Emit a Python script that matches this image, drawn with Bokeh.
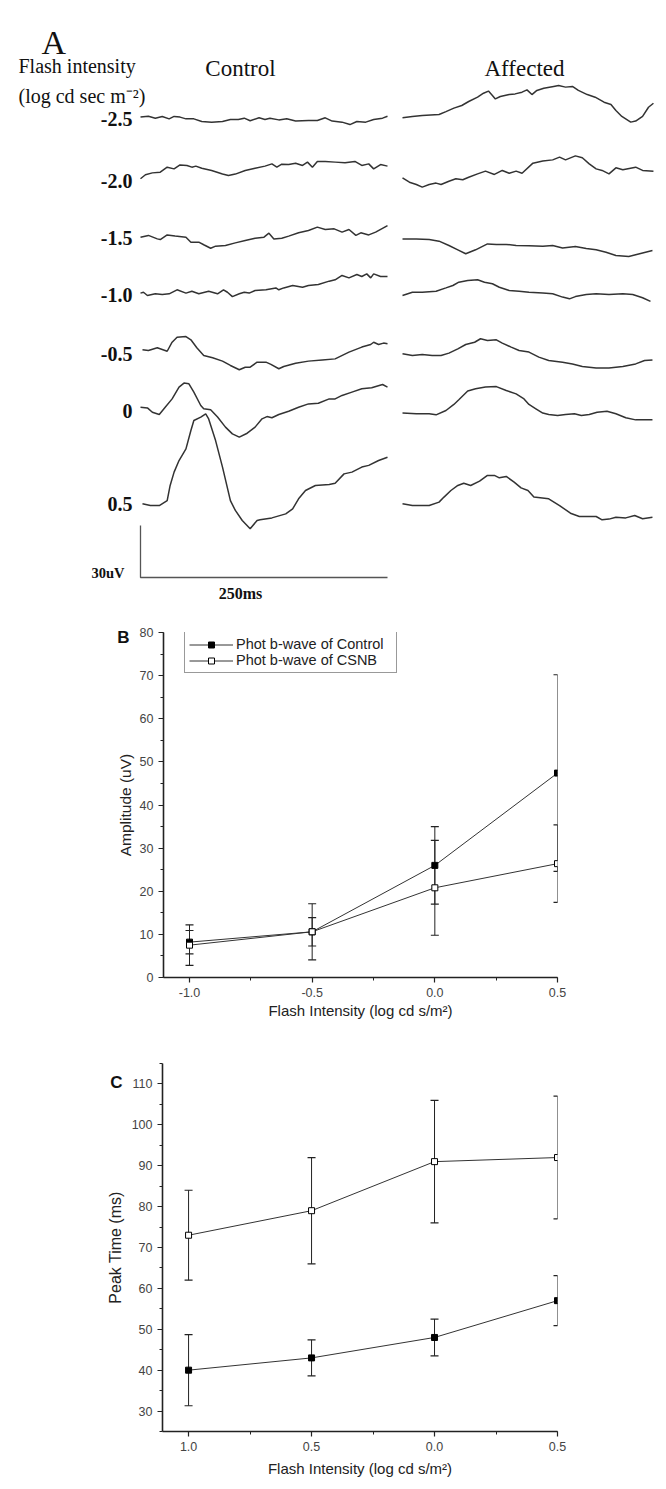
from bokeh.plotting import figure
from bokeh.models import Range1d, FixedTicker, Legend, LegendItem, LinearAxis
from bokeh.embed import file_html
from bokeh.resources import INLINE
from bokeh.core.properties import value

# =============================== DATA ===============================
# ---- Panel A: ERG traces (time in ms, amplitude in uV relative to row baseline)
intensity_labels = ["-2.5", "-2.0", "-1.5", "-1.0", "-0.5", "0", "0.5"]
column_titles = ["Control", "Affected"]
scale_uv = 30
scale_ms = 250

ctrl_m25_t = [0, 8, 15, 22, 29, 34, 40, 46, 54, 62, 72, 83, 91, 99, 105, 111, 120, 126, 131, 140, 148, 157, 170, 179, 187, 194, 204, 212, 219, 228, 236, 245, 250]
ctrl_m25_v = [0.8, 1.3, 0.2, 1.2, -0.2, 1.2, 0.8, -0.2, -0.2, -1.7, -2.1, -1.7, -0.6, -0.6, 0.2, -1.3, 0.4, -0.6, 0.2, -0.8, -0.2, -1.5, -1.2, -1.2, 0.4, -1.5, -2.1, -3.5, -1.7, -2.1, -0.6, 0.2, 1.3]

ctrl_m20_t = [0, 5, 12, 20, 27, 34, 40, 47, 52, 56, 62, 72, 83, 89, 96, 106, 116, 126, 133, 138, 143, 150, 157, 164, 169, 174, 179, 187, 197, 207, 217, 224, 231, 236, 243, 250]
ctrl_m20_v = [1.0, 3.3, 4.4, 4.8, 7.7, 6.7, 9.0, 8.7, 7.7, 8.3, 7.1, 5.8, 3.8, 2.9, 3.7, 5.8, 7.1, 8.3, 9.6, 7.7, 9.4, 9.2, 10.0, 8.7, 10.6, 7.7, 11.0, 11.0, 10.6, 10.2, 11.0, 8.7, 9.6, 6.7, 9.2, 8.3]

ctrl_m15_t = [0, 8, 17, 20, 27, 35, 46, 51, 59, 64, 71, 76, 86, 96, 106, 116, 125, 130, 135, 143, 150, 160, 170, 179, 187, 196, 204, 211, 218, 223, 231, 238, 250]
ctrl_m15_v = [0.2, 1.2, -0.8, -1.2, 1.5, 0.8, 0.2, -2.7, -2.7, -4.2, -6.2, -5.0, -4.6, -3.1, -1.7, -0.4, 0.2, 2.5, -0.8, -0.4, 0.8, 2.7, 4.0, 6.0, 4.6, 5.0, 3.1, 4.6, 1.2, 2.7, 1.5, 3.1, 6.9]

ctrl_m10_t = [0, 3, 7, 15, 22, 29, 37, 46, 52, 59, 69, 78, 84, 88, 93, 100, 105, 110, 116, 127, 137, 140, 145, 154, 164, 170, 180, 191, 197, 204, 211, 219, 224, 229, 233, 236, 243, 250]
ctrl_m10_v = [0.8, 1.3, -0.6, 0.4, 0.0, 0.4, 2.7, 0.8, 1.9, 0.4, 1.9, 0.4, 2.7, 1.3, -1.2, 0.4, 1.3, 0.8, 2.3, 2.7, 3.8, 2.7, 3.8, 5.2, 4.2, 5.2, 5.8, 7.7, 8.5, 11.0, 9.6, 11.5, 10.4, 11.9, 9.6, 11.9, 10.4, 10.4]

ctrl_m05_t = [2, 8, 17, 27, 32, 37, 46, 51, 57, 64, 73, 83, 91, 100, 106, 111, 118, 127, 132, 140, 145, 157, 170, 184, 197, 211, 224, 233, 236, 241, 246, 250]
ctrl_m05_v = [2.1, 1.7, 3.3, 1.3, 6.5, 9.4, 9.8, 7.9, 3.3, -1.2, -2.5, -4.4, -6.9, -9.4, -7.9, -7.9, -5.0, -5.0, -6.3, -8.8, -7.5, -5.6, -4.4, -3.7, -3.1, 0.8, 3.7, 5.2, 6.5, 5.2, 6.0, 5.6]

ctrl_00_t = [0, 7, 12, 19, 25, 32, 39, 44, 49, 54, 61, 64, 71, 78, 86, 93, 100, 108, 116, 123, 128, 133, 140, 150, 160, 170, 180, 191, 197, 204, 214, 224, 234, 245, 250]
ctrl_00_v = [1.9, 1.5, -1.0, -2.3, 1.9, 6.7, 13.5, 15.8, 15.4, 10.6, 2.9, 1.0, 0.4, -3.8, -9.6, -13.5, -15.4, -13.1, -9.6, -4.8, -3.5, -4.2, -2.3, -0.4, 1.9, 3.8, 4.2, 6.7, 6.7, 8.7, 10.6, 12.5, 13.1, 15.0, 13.5]

ctrl_p05_t = [2, 10, 19, 27, 30, 34, 39, 46, 51, 54, 61, 66, 69, 76, 83, 91, 96, 103, 111, 118, 121, 133, 147, 154, 160, 167, 177, 191, 197, 206, 214, 224, 231, 241, 250]
ctrl_p05_v = [-0.2, -1.2, -1.2, 1.7, 10.4, 18.1, 24.8, 31.5, 42.1, 47.9, 49.8, 51.7, 48.8, 36.3, 21.0, 1.7, -4.0, -9.8, -14.6, -9.8, -9.4, -8.3, -6.0, -3.1, 2.7, 7.5, 10.4, 11.0, 11.7, 17.1, 18.1, 21.0, 22.0, 24.8, 26.7]

aff_m25_t = [0, 10, 20, 37, 44, 52, 60, 67, 76, 82, 87, 91, 94, 99, 108, 114, 121, 126, 131, 136, 143, 153, 158, 165, 172, 178, 187, 195, 204, 211, 216, 222, 231, 236, 243, 249, 254]
aff_m25_v = [0.4, 1.2, 1.7, 2.3, 4.0, 6.0, 7.5, 9.8, 12.3, 14.6, 15.8, 13.3, 11.3, 12.7, 13.8, 14.2, 15.2, 16.5, 13.8, 16.2, 17.5, 18.5, 19.0, 18.1, 18.5, 16.2, 13.8, 12.3, 9.4, 8.1, 4.6, 1.2, -2.1, -1.5, 1.2, 6.5, 8.8]

aff_m20_t = [0, 7, 14, 20, 27, 34, 39, 47, 54, 61, 67, 76, 84, 93, 101, 108, 115, 121, 132, 142, 152, 159, 165, 175, 182, 189, 196, 202, 209, 216, 223, 236, 243, 254]
aff_m20_v = [1.5, -1.0, -2.3, -3.8, -2.3, -1.5, -2.3, -0.4, 1.0, 0.4, 1.9, 3.8, 5.4, 3.5, 5.8, 4.2, 5.4, 4.2, 10.0, 11.2, 11.9, 13.5, 11.9, 14.2, 13.1, 9.6, 6.7, 5.8, 3.8, 7.3, 6.2, 7.7, 5.8, 5.4]

aff_m15_t = [0, 14, 27, 37, 47, 56, 64, 74, 86, 95, 105, 115, 128, 142, 152, 162, 175, 186, 196, 206, 216, 229, 240, 253]
aff_m15_v = [-0.8, -0.8, -1.2, -2.1, -4.6, -7.1, -9.4, -7.1, -3.7, -4.0, -4.0, -4.6, -4.8, -5.0, -4.6, -6.0, -5.2, -6.3, -7.1, -8.5, -10.4, -11.0, -9.4, -7.5]

aff_m10_t = [0, 10, 20, 34, 44, 51, 57, 66, 76, 83, 91, 98, 108, 118, 128, 142, 152, 162, 169, 175, 186, 196, 209, 223, 233, 243, 251]
aff_m10_v = [-0.6, 1.3, 1.3, 1.9, 3.8, 5.2, 7.1, 8.1, 8.5, 7.1, 6.2, 4.2, 2.3, 1.9, 1.3, 0.8, 0.4, -1.5, -2.5, -1.2, 0.0, 0.4, 0.0, 0.4, 0.0, -1.9, -4.0]

aff_m05_t = [0, 10, 20, 30, 39, 47, 56, 64, 73, 79, 86, 95, 101, 110, 118, 128, 138, 148, 162, 172, 182, 196, 209, 223, 236, 245, 253]
aff_m05_v = [-0.2, -1.2, -0.6, -1.2, -1.2, 0.2, 2.7, 5.2, 6.5, 8.5, 7.5, 7.9, 6.0, 3.7, 1.7, 0.8, -2.1, -4.0, -5.0, -6.0, -7.5, -8.3, -8.3, -7.5, -6.0, -4.0, -3.7]

aff_00_t = [0, 14, 27, 34, 44, 52, 57, 66, 74, 84, 95, 105, 115, 123, 128, 135, 142, 148, 157, 165, 174, 181, 189, 197, 207, 216, 226, 236, 253]
aff_00_v = [-1.5, -1.9, -1.9, -2.5, 0.0, 3.5, 6.2, 11.2, 12.5, 13.5, 13.8, 11.5, 9.6, 6.7, 3.5, 1.0, -1.5, -2.3, -2.9, -2.3, -1.9, -2.9, -2.3, -1.0, -0.4, -1.9, -4.2, -5.4, -5.4]

aff_p05_t = [0, 10, 27, 37, 42, 49, 56, 62, 69, 78, 86, 93, 98, 105, 113, 120, 127, 133, 148, 159, 170, 179, 196, 202, 209, 216, 226, 235, 243, 253]
aff_p05_v = [-0.2, -1.2, -1.2, 0.8, 3.7, 7.5, 10.4, 11.7, 10.4, 12.9, 16.2, 16.2, 14.8, 15.6, 12.3, 9.0, 7.5, 3.7, 2.7, -1.2, -5.6, -7.5, -7.5, -9.4, -9.0, -7.9, -8.3, -6.9, -8.8, -7.9]

# ---- Panel B: photopic b-wave amplitude (uV)
flash_x = [-1.0, -0.5, 0.0, 0.5]
b_xtick_labels = ["-1.0", "-0.5", "0.0", "0.5"]
amp_ctrl = [8.2, 10.6, 26.0, 47.4]
amp_ctrl_err = [2.7, 3.3, 9.0, 22.8]
amp_csnb = [7.5, 10.6, 20.8, 26.4]
amp_csnb_err = [4.7, 6.5, 11.0, 9.0]
legend_labels = ["Phot b-wave of Control", "Phot b-wave of CSNB"]

# ---- Panel C: peak time (ms)
c_xtick_labels = ["1.0", "0.5", "0.0", "0.5"]
pt_ctrl = [40.0, 43.0, 48.0, 57.0]
pt_ctrl_err = [8.7, 4.4, 4.5, 6.1]
pt_csnb = [73.0, 79.0, 91.0, 92.0]
pt_csnb_err = [11.0, 13.0, 15.0, 15.0]

# ============================== LAYOUT ==============================
W = 666
A_H, B_H, C_H = 605, 420, 462
SERIF = "Liberation Serif"
SANS = "Liberation Sans"
TRACE = "#333333"


def ax_x(px):
    # page pixel -> ms (control trace starts at px 140, 250 ms spans 247 px)
    return (px - 140) * scale_ms / 247.0


def ax_y(py):
    # page pixel -> uV (0.5 row baseline at py 503, 30 uV spans 52 px)
    return (503 - py) * scale_uv / 52.0


# ------------------------------ Panel A ------------------------------
pa = figure(width=W, height=A_H, x_range=Range1d(ax_x(0), ax_x(W)),
            y_range=Range1d(ax_y(A_H), ax_y(0)),
            x_axis_type=None, y_axis_type=None,
            output_backend="svg", toolbar_location=None, min_border=0)
pa.outline_line_color = None
pa.grid.visible = False

row_py = [118, 180, 237, 294, 353, 410, 503]
row_off = [ax_y(py) for py in row_py]
aff_shift = ax_x(402)

ctrl_traces = [(ctrl_m25_t, ctrl_m25_v), (ctrl_m20_t, ctrl_m20_v), (ctrl_m15_t, ctrl_m15_v),
               (ctrl_m10_t, ctrl_m10_v), (ctrl_m05_t, ctrl_m05_v), (ctrl_00_t, ctrl_00_v),
               (ctrl_p05_t, ctrl_p05_v)]
aff_traces = [(aff_m25_t, aff_m25_v), (aff_m20_t, aff_m20_v), (aff_m15_t, aff_m15_v),
              (aff_m10_t, aff_m10_v), (aff_m05_t, aff_m05_v), (aff_00_t, aff_00_v),
              (aff_p05_t, aff_p05_v)]

for off, (t, v) in zip(row_off, ctrl_traces):
    pa.line(t, [off + a for a in v], line_color=TRACE, line_width=1.5)
for off, (t, v) in zip(row_off, aff_traces):
    pa.line([aff_shift + a for a in t], [off + a for a in v], line_color=TRACE, line_width=1.5)

# scale bar
bar_base = ax_y(577)
pa.line([0, 0, scale_ms], [bar_base + scale_uv, bar_base, bar_base], line_color="#555", line_width=1.3)

# texts
pa.text(x=[ax_x(132)] * len(intensity_labels), y=row_off, text=intensity_labels,
        text_font=value(SERIF), text_font_size=value("20px"), text_font_style="bold",
        text_align="right", text_baseline="middle", text_color="#111")
pa.text(x=[ax_x(124)], y=[ax_y(572)], text=[f"{scale_uv}uV"], text_font=value(SERIF),
        text_font_size=value("14.5px"), text_font_style="bold", text_align="right",
        text_baseline="middle", text_color="#111")
pa.text(x=[ax_x(240)], y=[ax_y(593)], text=[f"{scale_ms}ms"], text_font=value(SERIF),
        text_font_size=value("16px"), text_font_style="bold", text_align="center",
        text_baseline="middle", text_color="#111")
pa.text(x=[ax_x(41)], y=[ax_y(42)], text=["A"], text_font=value(SERIF),
        text_font_size=value("34px"), text_align="left", text_baseline="alphabetic",
        text_color="#111")
pa.text(x=[ax_x(18), ax_x(18)], y=[ax_y(65), ax_y(95)],
        text=["Flash intensity", "(log cd sec m\u207b\u00b2)"], text_font=value(SERIF),
        text_font_size=value("20px"), text_align="left", text_baseline="alphabetic",
        text_color="#111")
pa.text(x=[ax_x(240), ax_x(524)], y=[ax_y(68), ax_y(68)], text=column_titles,
        text_font=value(SERIF), text_font_size=value("23px"), text_align="center",
        text_baseline="alphabetic", text_color="#111")


# ------------------------------ helpers ------------------------------
def style_axes(p, xlabel, ylabel, xlabels, ylab_standoff, xlab_standoff):
    for ax in (p.xaxis[0], p.yaxis[0]):
        ax.axis_line_color = "#222"
        ax.axis_line_width = 1.6
        ax.major_tick_line_color = "#222"
        ax.minor_tick_line_color = "#222"
        ax.major_tick_line_width = 1.2
        ax.major_tick_out = 5
        ax.major_tick_in = 0
        ax.minor_tick_out = 3
        ax.minor_tick_in = 0
        ax.major_label_text_font = SANS
        ax.major_label_text_font_size = "12.5px"
        ax.major_label_text_color = "#444"
        ax.major_label_standoff = 5
        ax.axis_label_text_font = SANS
        ax.axis_label_text_font_style = "normal"
        ax.axis_label_text_color = "#222"
    p.xaxis[0].axis_label = xlabel
    p.yaxis[0].axis_label = ylabel
    p.xaxis[0].axis_label_text_font_size = "15px"
    p.xaxis[0].axis_label_standoff = xlab_standoff
    p.yaxis[0].axis_label_standoff = ylab_standoff
    p.xaxis[0].ticker = FixedTicker(ticks=flash_x, minor_ticks=[-1.0, -0.75, -0.5, -0.25, 0.0, 0.25, 0.5])
    p.xaxis[0].major_label_overrides = {x: s for x, s in zip(flash_x, xlabels)}
    p.outline_line_color = None
    p.grid.visible = False


def panel_tag(p, tag, y, standoff):
    # panel letter drawn as the single label of a bare outer axis
    ax = LinearAxis(ticker=FixedTicker(ticks=[y]), major_label_overrides={y: tag},
                    axis_line_color=None, major_tick_line_color=None, minor_tick_line_color=None,
                    major_tick_out=0, major_tick_in=0, minor_tick_out=0, minor_tick_in=0,
                    major_label_standoff=standoff, major_label_text_font=SANS,
                    major_label_text_font_style="bold", major_label_text_font_size="17px",
                    major_label_text_color="#111")
    p.add_layout(ax, "left")


def error_bars(p, x, y, e):
    lo = [a - b for a, b in zip(y, e)]
    hi = [a + b for a, b in zip(y, e)]
    p.segment(x0=x, y0=lo, x1=x, y1=hi, line_color="#222", line_width=1)
    p.scatter(x=x + x, y=lo + hi, marker="dash", size=8, line_color="#222", line_width=1.2)


XLABEL = "Flash Intensity (log cd s/m\u00b2)"

# ------------------------------ Panel B ------------------------------
pb = figure(width=W, height=B_H, x_range=Range1d(-1.106, 0.5), y_range=Range1d(0, 80),
            output_backend="svg", toolbar_location=None,
            min_border_left=163, min_border_right=109, min_border_top=27, min_border_bottom=48)
style_axes(pb, XLABEL, "Amplitude (uV)", b_xtick_labels, 3, 2)
pb.yaxis[0].axis_label_text_font_size = "15.5px"
pb.yaxis[0].ticker = FixedTicker(ticks=list(range(0, 81, 10)), minor_ticks=list(range(0, 81, 5)))
panel_tag(pb, "B", 78.8, -16)

lb1 = pb.line(flash_x, amp_ctrl, line_color="#333", line_width=1)
lb2 = pb.line(flash_x, amp_csnb, line_color="#333", line_width=1)
error_bars(pb, flash_x, amp_ctrl, amp_ctrl_err)
error_bars(pb, flash_x, amp_csnb, amp_csnb_err)
sb1 = pb.scatter(flash_x, amp_ctrl, marker="square", size=6, fill_color="black", line_color="black")
sb2 = pb.scatter(flash_x, amp_csnb, marker="square", size=6, fill_color="white", line_color="black", line_width=1)

leg = Legend(items=[LegendItem(label=legend_labels[0], renderers=[lb1, sb1]),
                    LegendItem(label=legend_labels[1], renderers=[lb2, sb2])],
             location=(21, 304), margin=0, padding=4, spacing=0,
             glyph_width=44, glyph_height=15, label_height=15, label_width=156, label_standoff=3,
             border_line_color="#333", border_line_width=1,
             label_text_font=SANS, label_text_font_size="14.5px", label_text_color="#222")
pb.add_layout(leg)

# ------------------------------ Panel C ------------------------------
pc = figure(width=W, height=C_H, x_range=Range1d(-1.106, 0.5), y_range=Range1d(25, 115),
            output_backend="svg", toolbar_location=None,
            min_border_left=162, min_border_right=109, min_border_top=38, min_border_bottom=56)
style_axes(pc, XLABEL, "Peak Time (ms)", c_xtick_labels, 5, 6)
pc.yaxis[0].axis_label_text_font_size = "16px"
pc.yaxis[0].ticker = FixedTicker(ticks=list(range(30, 111, 10)), minor_ticks=list(range(25, 116, 5)))
panel_tag(pc, "C", 110.3, -19)

pc.line(flash_x, pt_csnb, line_color="#333", line_width=1)
pc.line(flash_x, pt_ctrl, line_color="#333", line_width=1)
error_bars(pc, flash_x, pt_csnb, pt_csnb_err)
error_bars(pc, flash_x, pt_ctrl, pt_ctrl_err)
pc.scatter(flash_x, pt_ctrl, marker="square", size=6, fill_color="black", line_color="black")
pc.scatter(flash_x, pt_csnb, marker="square", size=6, fill_color="white", line_color="black", line_width=1)

# three independent roots, stacked one under the other
open("out.html", "w").write(file_html([pa, pb, pc], INLINE))
